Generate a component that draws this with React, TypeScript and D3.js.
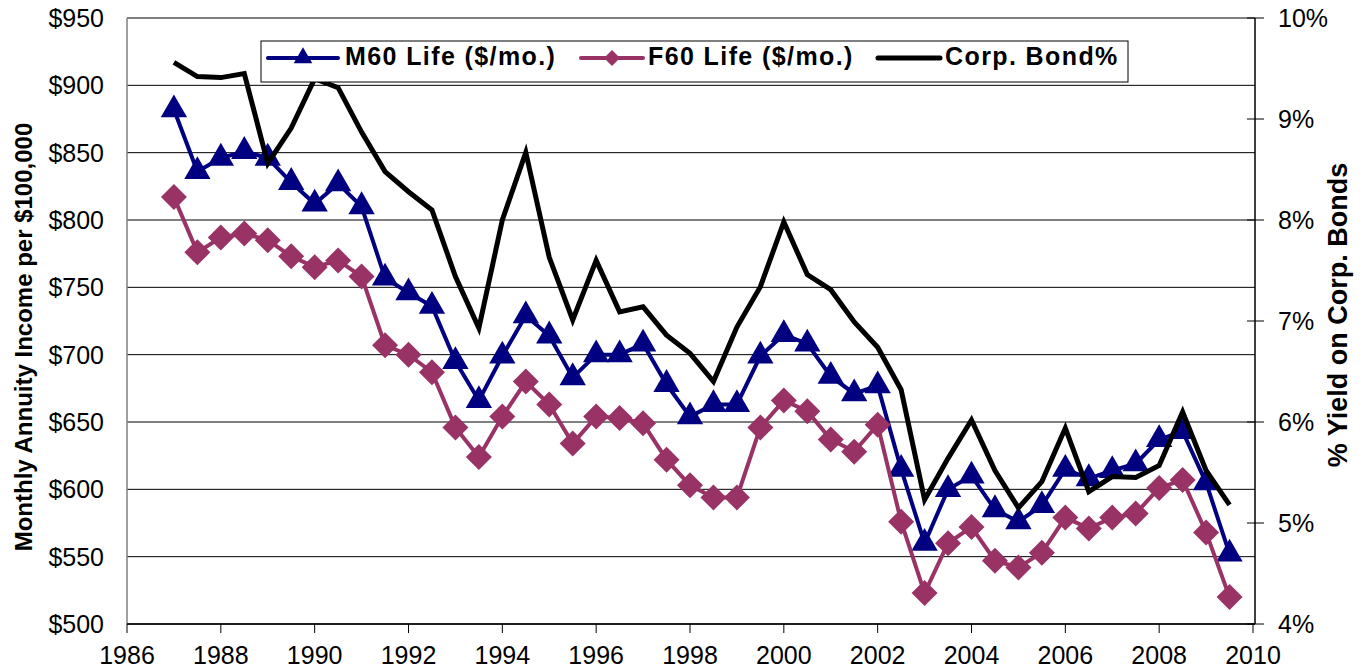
import React from 'react';
import * as d3 from 'd3';

// half-year observations, 1987.0 .. 2009.5
const years = d3.range(46).map(i => 1987 + i * 0.5);

const m60Life = [
  882, 836, 846, 851, 846, 828, 812, 827, 810, 757,
  746, 736, 695, 666, 699, 729, 714, 683, 700, 700,
  708, 678, 654, 663, 663, 699, 715, 708, 684, 671,
  677, 615, 560, 600, 610, 585, 576, 588, 615, 608,
  614, 619, 637, 643, 605, 552,
];

const f60Life = [
  817, 776, 787, 790, 785, 773, 765, 770, 758, 707,
  700, 687, 646, 624, 654, 680, 663, 634, 654, 653,
  649, 622, 603, 594, 594, 646, 666, 658, 637, 628,
  648, 576, 523, 560, 572, 547, 542, 553, 579, 571,
  579, 582, 601, 607, 568, 520,
];

const corpBond = [
  9.56, 9.42, 9.41, 9.45, 8.56, 8.91, 9.4, 9.31, 8.87, 8.48,
  8.28, 8.1, 7.44, 6.93, 8.0, 8.67, 7.63, 7.01, 7.6, 7.09,
  7.14, 6.86, 6.68, 6.4, 6.94, 7.34, 7.98, 7.46, 7.31, 6.99,
  6.74, 6.32, 5.23, 5.64, 6.02, 5.52, 5.15, 5.41, 5.94, 5.31,
  5.46, 5.45, 5.57, 6.1, 5.52, 5.18,
];

const xTicks = d3.range(1986, 2011, 2);
const leftTicks = d3.range(500, 951, 50);
const rightTicks = d3.range(4, 10.5, 1);

const NAVY = '#000080';
const MAROON = '#993366';
const FONT = '"Liberation Sans", Arial, sans-serif';

const left = 127, right = 1255, top = 18, bottom = 624;

export default function App() {
  const x = d3.scaleLinear().domain([1986, 2010]).range([left, right - 2]);
  const yL = d3.scaleLinear().domain([500, 950]).range([bottom, top]);
  const yR = d3.scaleLinear().domain([4, 10]).range([bottom, top]);

  const lineL = d3.line<number>().x((d, i) => x(years[i])).y(d => yL(d));
  const lineR = d3.line<number>().x((d, i) => x(years[i])).y(d => yR(d));

  const tri = d3.symbol().type(d3.symbolTriangle).size(300)();
  const triSmall = d3.symbol().type(d3.symbolTriangle).size(150)();
  const dia = (s: number) => `M0,${-s}L${s},0L0,${s}L${-s},0Z`;

  return (
    <svg width={1363} height={669} style={{ position: 'absolute', left: 0, top: 0, background: '#fff' }}
      fontFamily={FONT}>
      {/* gridlines */}
      {leftTicks.map(t => (
        <line key={t} x1={left} x2={right} y1={yL(t)} y2={yL(t)} stroke="#000" strokeWidth={1} />
      ))}
      {/* axes */}
      <line x1={left} x2={left} y1={top} y2={bottom} stroke="#808080" strokeWidth={1.5} />
      <line x1={right} x2={right} y1={top} y2={bottom} stroke="#000" strokeWidth={1.5} />
      <line x1={left} x2={right} y1={bottom} y2={bottom} stroke="#000" strokeWidth={1.5} />
      {xTicks.map(t => (
        <g key={t}>
          <line x1={x(t)} x2={x(t)} y1={bottom} y2={bottom + 9} stroke="#000" />
          <text x={x(t)} y={664} textAnchor="middle" fontSize={25}>{t}</text>
        </g>
      ))}
      {leftTicks.map(t => (
        <text key={t} x={104} y={yL(t) + 9} textAnchor="end" fontSize={25}>${t}</text>
      ))}
      {rightTicks.map(t => (
        <g key={t}>
          <line x1={right - 8} x2={right + 9} y1={yR(t)} y2={yR(t)} stroke="#000" />
          <text x={1278} y={yR(t) + 9} fontSize={25}>{t}%</text>
        </g>
      ))}
      <text transform={`translate(32,${(top + bottom) / 2 + 16}) rotate(-90)`} textAnchor="middle"
        fontSize={24} fontWeight="bold">Monthly Annuity Income per $100,000</text>
      <text transform={`translate(1347,${(top + bottom) / 2 - 6}) rotate(-90)`} textAnchor="middle"
        fontSize={27} fontWeight="bold">% Yield on Corp. Bonds</text>

      {/* M60 */}
      <path d={lineL(m60Life) || ''} fill="none" stroke={NAVY} strokeWidth={4} />
      {m60Life.map((d, i) => (
        <path key={i} d={tri || ''} transform={`translate(${x(years[i])},${yL(d)})`} fill={NAVY} />
      ))}
      {/* F60 */}
      <path d={lineL(f60Life) || ''} fill="none" stroke={MAROON} strokeWidth={4} />
      {f60Life.map((d, i) => (
        <path key={i} d={dia(13)} transform={`translate(${x(years[i])},${yL(d)})`} fill={MAROON} />
      ))}
      {/* Corp bond */}
      <path d={lineR(corpBond) || ''} fill="none" stroke="#000" strokeWidth={5} strokeLinejoin="miter" />

      {/* legend */}
      <g fontSize={25} fontWeight="bold" letterSpacing={1.4}>
        <rect x={261} y={41} width={867} height={41} fill="#fff" stroke="#000" strokeWidth={1} />
        <line x1={268} x2={338} y1={58} y2={58} stroke={NAVY} strokeWidth={4} strokeLinecap="round" />
        <path d={triSmall || ''} transform="translate(303,58)" fill={NAVY} />
        <text x={345} y={65}>M60 Life ($/mo.)</text>
        <line x1={581} x2={643} y1={58} y2={58} stroke={MAROON} strokeWidth={4} strokeLinecap="round" />
        <path d={dia(8)} transform="translate(612,58)" fill={MAROON} />
        <text x={648} y={65}>F60 Life ($/mo.)</text>
        <line x1={878} x2={940} y1={58} y2={58} stroke="#000" strokeWidth={5} strokeLinecap="round" />
        <text x={945} y={65}>Corp. Bond%</text>
      </g>
    </svg>
  );
}
